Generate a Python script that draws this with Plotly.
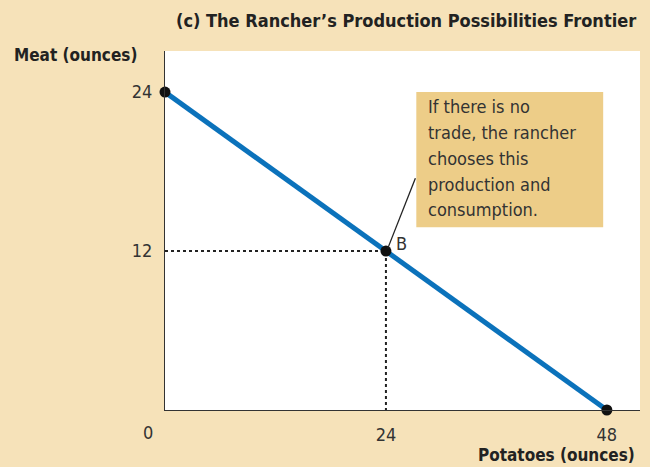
import plotly.graph_objects as go

# Data
potatoes = [0, 24, 48]
meat = [24, 12, 0]
point_b = (24, 12)
x_ticks = [24, 48]
y_ticks = [12, 24]
note_lines = ["If there is no", "trade, the rancher", "chooses this", "production and", "consumption."]

FONT = "DejaVu Sans Condensed, Liberation Sans Narrow, Liberation Sans, sans-serif"
BG = "#f6e2b9"
BOX = "#edcd88"
BLUE = "#0b72bb"

fig = go.Figure()

# dotted guides to B
fig.add_trace(go.Scatter(x=[0, point_b[0], point_b[0]], y=[point_b[1], point_b[1], 0],
                         mode="lines", line=dict(color="#222", width=2, dash="dot"),
                         hoverinfo="skip", showlegend=False, cliponaxis=False))
# PPF line
fig.add_trace(go.Scatter(x=potatoes, y=meat, mode="lines",
                         line=dict(color=BLUE, width=5), showlegend=False, cliponaxis=False))
# markers
fig.add_trace(go.Scatter(x=potatoes, y=meat, mode="markers",
                         marker=dict(color="#111", size=11), showlegend=False, cliponaxis=False))

# annotation box
fig.add_shape(type="rect", x0=27.3, x1=47.6, y0=13.8, y1=24.0,
              fillcolor=BOX, line=dict(width=0), layer="above")
# leader line
fig.add_shape(type="line", x0=point_b[0] + 0.2, y0=point_b[1] + 0.2, x1=27.2, y1=17.5,
              line=dict(color="#222", width=1.3))

for i, line in enumerate(note_lines):
    fig.add_annotation(x=28.3, y=22.9 - i * 1.95, xref="x", yref="y", text=line,
                       showarrow=False, xanchor="left", yanchor="middle",
                       font=dict(family=FONT, size=18, color="#333"))

fig.add_annotation(x=point_b[0] + 0.9, y=point_b[1] + 0.6, text="B", showarrow=False,
                   xanchor="left", yanchor="middle", font=dict(family=FONT, size=18, color="#333"))

# titles
fig.add_annotation(xref="paper", yref="paper", x=1.0, y=1.0, yshift=31, xshift=-2,
                   text="<b>(c) The Rancher\u2019s Production Possibilities Frontier</b>",
                   showarrow=False, xanchor="right", yanchor="middle",
                   font=dict(family=FONT, size=18, color="#222"))
fig.add_annotation(xref="paper", yref="paper", x=0, y=1.0, xshift=-26, yshift=-4,
                   text="<b>Meat (ounces)</b>", showarrow=False, xanchor="right", yanchor="middle",
                   font=dict(family=FONT, size=17, color="#222"))
fig.add_annotation(xref="paper", yref="paper", x=1.0, y=0, xshift=-3, yshift=-45,
                   text="<b>Potatoes (ounces)</b>", showarrow=False, xanchor="right", yanchor="middle",
                   font=dict(family=FONT, size=17, color="#222"))
fig.add_annotation(xref="paper", yref="paper", x=0, y=0, xshift=-17, yshift=-22,
                   text="0", showarrow=False, xanchor="center", yanchor="middle",
                   font=dict(family=FONT, size=18, color="#333"))

fig.update_xaxes(range=[0, 51.6], tickvals=x_ticks, ticks="", showgrid=False, zeroline=False,
                 showline=True, linecolor="#333", linewidth=1.2,
                 tickfont=dict(family=FONT, size=18, color="#333"), ticklabelstandoff=8)
fig.update_yaxes(range=[0, 27.1], tickvals=y_ticks, ticks="", showgrid=False, zeroline=False,
                 showline=True, linecolor="#333", linewidth=1.2,
                 tickfont=dict(family=FONT, size=18, color="#333"), ticklabelstandoff=8)

fig.update_layout(width=650, height=467, margin=dict(l=165, r=10, t=51, b=57),
                  paper_bgcolor=BG, plot_bgcolor="white", font=dict(family=FONT))

fig.write_html("out.html", config={"displayModeBar": False},
               post_script="document.body.style.margin='0';document.body.style.overflow='hidden';")
